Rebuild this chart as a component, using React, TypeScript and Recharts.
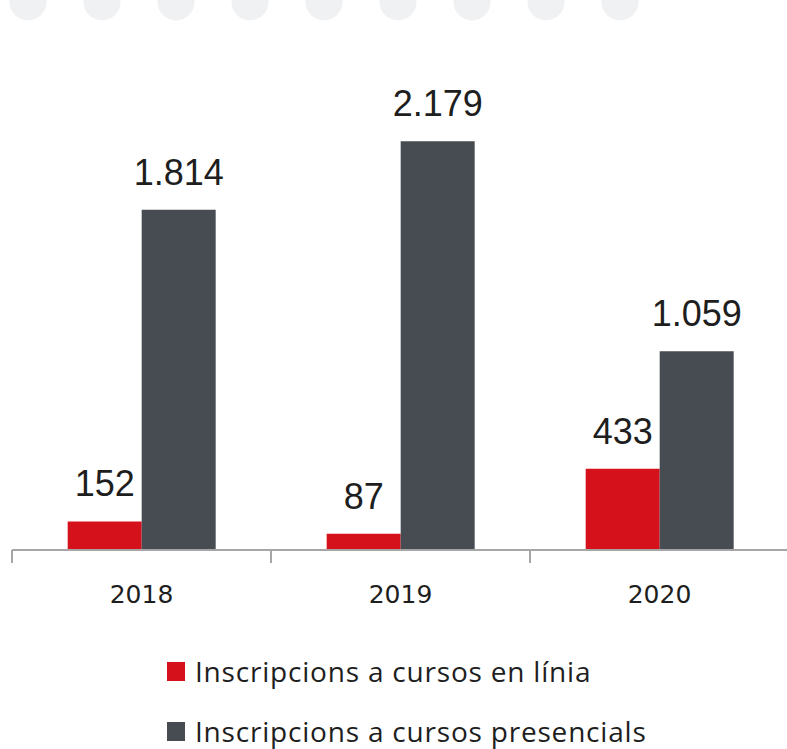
import React from 'react';
import { BarChart, Bar, XAxis, YAxis, LabelList, Legend } from 'recharts';

const years = ['2018', '2019', '2020'];
const onlineValues = [152, 87, 433];
const presencialValues = [1814, 2179, 1059];
const seriesNames = ['Inscripcions a cursos en línia', 'Inscripcions a cursos presencials'];
const seriesColors = ['#d5121b', '#474c53'];

const data = years.map((y, i) => ({ year: y, online: onlineValues[i], presencial: presencialValues[i] }));

const W = 787;
const H = 749;
const MARGIN = { top: 81, right: -2, left: 12, bottom: 139 };
const BAND = (W - MARGIN.left - MARGIN.right) / years.length;

const fmt = (v: number) => v.toLocaleString('de-DE');

const AxisTick = (props: any) => {
  const { x, y, payload } = props;
  const bx = x - BAND / 2;
  return (
    <g>
      <line x1={bx} y1={y - 13} x2={bx} y2={y} stroke="#a6a6a6" strokeWidth={2} />
      <text x={x} y={y + 40} textAnchor="middle" fontFamily="'DejaVu Sans', sans-serif" fontSize={25} fill="#1e1e1e">
        {payload.value}
      </text>
    </g>
  );
};

const LegendContent = () => (
  <div style={{ fontFamily: "'Open Sans', sans-serif", fontSize: 28, color: '#1e1e1e', letterSpacing: 0.8 }}>
    {seriesNames.map((n, i) => (
      <div key={n} style={{ display: 'flex', alignItems: 'center', height: 60 }}>
        <span style={{ display: 'inline-block', width: 18, height: 19, background: seriesColors[i], marginRight: 10 }} />
        <span style={{ lineHeight: '60px' }}>{n}</span>
      </div>
    ))}
  </div>
);

const dotXs = [28, 102, 176, 250, 324, 398, 472, 546, 620];

export default function App() {
  return (
    <div style={{ position: 'absolute', left: 0, top: 0, width: W, height: H, background: '#fff' }}>
      <svg width={W} height={30} style={{ position: 'absolute', left: 0, top: 0 }}>
        {dotXs.map((cx) => (
          <circle key={cx} cx={cx} cy={2} r={18.5} fill="#f0f1f3" />
        ))}
      </svg>
      <BarChart width={W} height={H} data={data} margin={MARGIN} barCategoryGap="21.5%" barGap={0}>
        <XAxis
          dataKey="year"
          height={60}
          axisLine={{ stroke: '#a6a6a6', strokeWidth: 2 }}
          tickLine={false}
          tickSize={13}
          tickMargin={0}
          tick={<AxisTick />}
          interval={0}
        />
        <YAxis hide domain={[0, 2500]} />
        <Legend
          layout="vertical"
          align="center"
          verticalAlign="middle"
          content={<LegendContent />}
          wrapperStyle={{ left: 167, top: 641, width: 'auto' }}
        />
        <Bar dataKey="online" name={seriesNames[0]} fill={seriesColors[0]} isAnimationActive={false}>
          <LabelList dataKey="online" position="top" offset={25} formatter={fmt as any}
            style={{ fontFamily: "'Liberation Sans', Arial, sans-serif", fontSize: 36, fill: '#1e1e1e' }} />
        </Bar>
        <Bar dataKey="presencial" name={seriesNames[1]} fill={seriesColors[1]} isAnimationActive={false}>
          <LabelList dataKey="presencial" position="top" offset={25} formatter={fmt as any}
            style={{ fontFamily: "'Liberation Sans', Arial, sans-serif", fontSize: 36, fill: '#1e1e1e' }} />
        </Bar>
      </BarChart>
    </div>
  );
}
